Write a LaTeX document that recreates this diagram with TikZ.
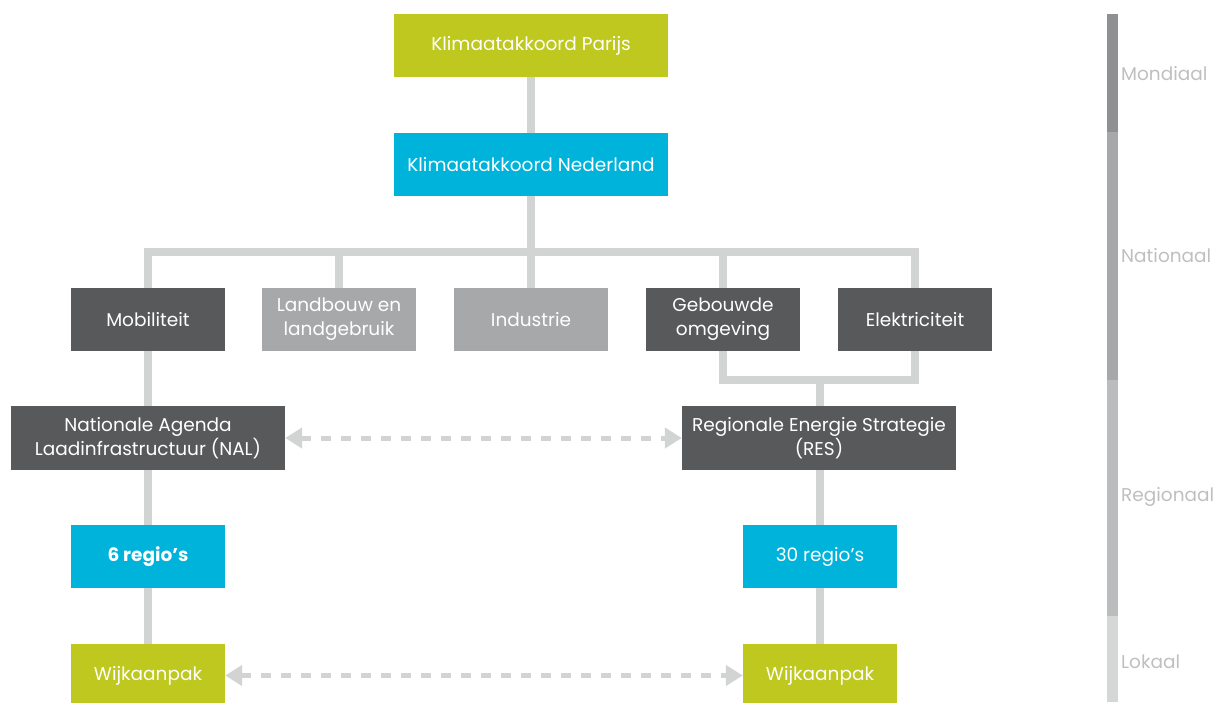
\documentclass[tikz,border=0pt]{standalone}
\usepackage{fontspec}
\setmainfont{Poppins}
\usetikzlibrary{arrows.meta}
\definecolor{kgreen}{RGB}{190,200,30}
\definecolor{kblue}{RGB}{0,179,219}
\definecolor{kdark}{RGB}{88,89,91}
\definecolor{kmid}{RGB}{167,168,170}
\definecolor{kconn}{RGB}{210,211,211}
\definecolor{bar1}{RGB}{142,144,146}
\definecolor{bar2}{RGB}{167,168,169}
\definecolor{bar3}{RGB}{187,188,189}
\definecolor{bar4}{RGB}{213,214,214}
\definecolor{klabel}{RGB}{190,191,192}
\tikzset{
  box/.style={rectangle, inner sep=0pt, text=white, align=center,
    font=\fontsize{18.5}{24}\selectfont},
  wide/.style={box, minimum width=274pt, minimum height=63pt},
  narrow/.style={box, minimum width=154pt, minimum height=63pt},
  conn/.style={draw=kconn, line width=8pt, line join=miter},
  dasharr/.style={draw=kconn, line width=5pt, dash pattern=on 10pt off 10pt,
    {Triangle[length=17pt,width=20pt,fill=kconn]}-{Triangle[length=17pt,width=20pt,fill=kconn]}},
  barlabel/.style={anchor=west, inner sep=0pt, text=klabel, font=\fontsize{18.5}{22}\selectfont},
}
\begin{document}
\begin{tikzpicture}[x=1pt,y=-1pt]
\useasboundingbox (0,0) rectangle (1223,702);
% nodes
\node[wide, fill=kgreen] (parijs) at (531,45.5) {Klimaatakkoord Parijs};
\node[wide, fill=kblue] (nl) at (531,164.5) {Klimaatakkoord Nederland};
\node[narrow, fill=kdark] (mob) at (148,319.5) {Mobiliteit};
\node[narrow, fill=kmid] (land) at (339,319.5) {Landbouw en\\landgebruik};
\node[narrow, fill=kmid] (ind) at (531,319.5) {Industrie};
\node[narrow, fill=kdark] (geb) at (723,319.5) {Gebouwde\\omgeving};
\node[narrow, fill=kdark] (elek) at (915,319.5) {Elektriciteit};
\node[wide, fill=kdark, minimum height=64pt] (nal) at (148,438) {Nationale Agenda\\Laadinfrastructuur (NAL)};
\node[wide, fill=kdark, minimum height=64pt] (res) at (819,438) {Regionale Energie Strategie\\(RES)};
\node[narrow, fill=kblue] (r6) at (148,556.5) {\bfseries 6 regio’s};
\node[narrow, fill=kblue] (r30) at (820,556.5) {30 regio’s};
\node[narrow, fill=kgreen] (wl) at (148,675.5) {Wijkaanpak};
\node[narrow, fill=kgreen] (wr) at (820,675.5) {Wijkaanpak};
% helper coordinates
\coordinate (bus) at (531,252);
\coordinate (low) at (820,380);
% connectors
\draw[conn] (parijs) -- (nl);
\draw[conn] (nl.south) -- (bus);
\draw[conn] (mob.north) -- (mob.north |- bus) -- (elek.north |- bus) -- (elek.north);
\draw[conn] (land.north) -- (land.north |- bus);
\draw[conn] (ind.north) -- (ind.north |- bus);
\draw[conn] (geb.north) -- (geb.north |- bus);
\draw[conn] (geb.south) -- (geb.south |- low) -- (elek.south |- low) -- (elek.south);
\draw[conn] (res.north -| low) -- (low);
\draw[conn] (mob) -- (nal);
\draw[conn] (nal.south -| r6) -- (r6);
\draw[conn] (r6) -- (wl);
\draw[conn] (res.south -| r30) -- (r30);
\draw[conn] (r30) -- (wr);
\draw[dasharr] (nal.east) -- (res.west);
\draw[dasharr] (wl.east) -- (wr.west);
% scale bar
\fill[bar1] (1107,14) rectangle (1118,132);
\fill[bar2] (1107,132) rectangle (1118,380);
\fill[bar3] (1107,380) rectangle (1118,616);
\fill[bar4] (1107,616) rectangle (1118,702);
\node[barlabel] (mond) at (1121,74) {Mondiaal};
\node[barlabel] (nat) at (1121,256) {Nationaal};
\node[barlabel] (reg) at (1121,497) {Regionaal};
\node[barlabel] (lok) at (1121,662) {Lokaal};
\end{tikzpicture}
\end{document}
